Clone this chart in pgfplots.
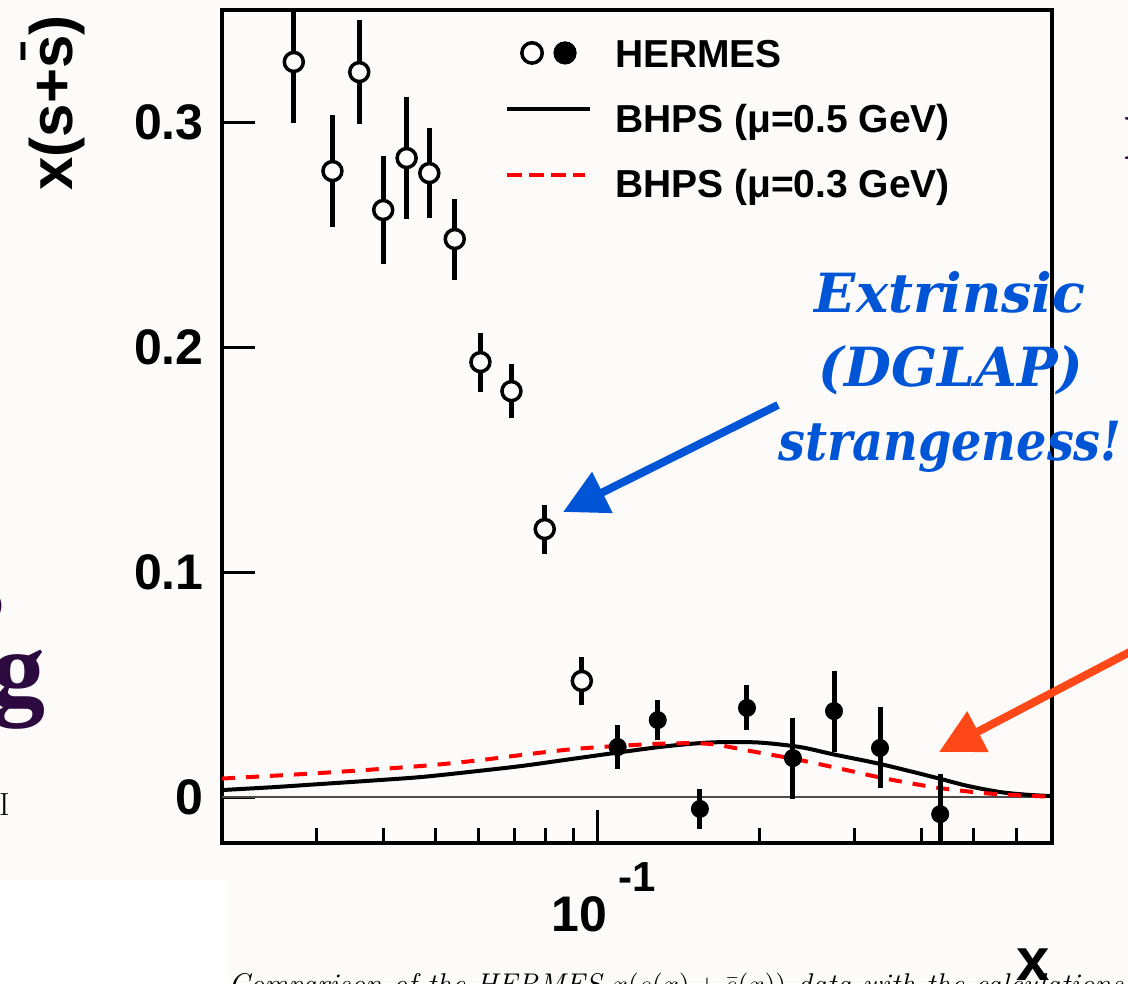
\documentclass[border=0pt]{standalone}
\usepackage{fontspec}
\usepackage{pgfplots}
\pgfplotsset{compat=1.18}
\usetikzlibrary{arrows.meta}
\newfontfamily\hv{Liberation Sans}
\newfontfamily\dvs{DejaVu Serif}
\newfontfamily\lsr{Liberation Serif}
\definecolor{bgcol}{RGB}{252,251,249}
\definecolor{annblue}{RGB}{0,85,214}
\definecolor{annorange}{RGB}{255,72,24}
\definecolor{slidepurple}{RGB}{44,10,64}

\begin{document}
\begin{tikzpicture}[x=0.5bp,y=0.5bp]
\useasboundingbox (0,0) rectangle (1128,983);
\fill[bgcol] (0,0) rectangle (1128,983);
\fill[white] (0,0) rectangle (227,103);
\begin{axis}[
  at={(111bp,70bp)}, anchor=south west,
  scale only axis, width=415bp, height=416.5bp,
  xmode=log, xmin=0.02, xmax=0.7, ymin=-0.02044, ymax=0.3498,
  tick pos=left, tick align=inside,
  axis line style={line width=2bp},
  every tick/.style={line width=1.5bp, black},
  major tick length=16.5bp, minor tick length=7.5bp,
  xtick={0.1},
  minor xtick={0.03,0.04,0.05,0.06,0.07,0.08,0.09,0.2,0.3,0.4,0.5,0.6},
  xticklabels={{10\hspace{6bp}\raisebox{20bp}{\fontsize{21bp}{21bp}\selectfont -1}}},
  ytick={0,0.1,0.2,0.3},
  yticklabels={0,0.1,0.2,0.3},
  minor y tick num=0,
  tick label style={font=\fontsize{25bp}{25bp}\hv\bfseries},
  yticklabel style={anchor=east, inner sep=0pt, xshift=-9bp},
  xticklabel style={anchor=north, inner sep=0pt, yshift=-9.5bp, xshift=3bp},
  legend style={at={(axis description cs:0.341,0.9712)}, anchor=north west,
    draw=none, fill=none, inner sep=0pt, outer sep=0pt,
    font=\fontsize{19.5bp}{19.5bp}\hv\bfseries,
    row sep=10.5bp, column sep=9.5bp,
    cells={anchor=base west, text height=15bp, text depth=5bp, inner sep=0pt}},
]
\addlegendimage{legend image code/.code={
  \path[draw=none, fill=none] (0bp,-5bp) rectangle (41.5bp,15bp);
  \draw[line width=1.75bp, draw=black, fill=bgcol] (12.5bp,7.5bp) circle (5.1bp);
  \fill[black] (29bp,7.5bp) circle (5.6bp);
}}
\addlegendentry{HERMES}
\addlegendimage{legend image code/.code={
  \path[draw=none, fill=none] (0bp,-5bp) rectangle (41.5bp,15bp);
  \draw[line width=2bp, black] (0bp,12bp) -- (41.5bp,12bp);
}}
\addlegendentry{BHPS (μ=0.5 GeV)}
\addlegendimage{legend image code/.code={
  \path[draw=none, fill=none] (0bp,-5bp) rectangle (41.5bp,15bp);
  \draw[line width=2bp, red, dash pattern=on 7.5bp off 3.5bp] (0bp,11.5bp) -- (39bp,11.5bp);
}}
\addlegendentry{BHPS (μ=0.3 GeV)}

% zero line
\addplot[forget plot, line width=0.7bp, black!70] coordinates {(0.02,0) (0.7,0)};

% BHPS mu=0.5 GeV
\addplot[forget plot, smooth, line width=2bp, black] coordinates {
(0.02,0.0031) (0.025,0.0044) (0.0306,0.0058) (0.038,0.0073) (0.047,0.0089)
(0.058,0.0112) (0.0722,0.0138) (0.09,0.0170) (0.1108,0.0200) (0.13,0.0222)
(0.15,0.0237) (0.17,0.0244) (0.2,0.0242) (0.2379,0.0222) (0.2739,0.0190)
(0.335,0.0147) (0.4207,0.0089) (0.4862,0.0050) (0.5606,0.0022) (0.63,0.0010) (0.7,0.0004)};

% BHPS mu=0.3 GeV
\addplot[forget plot, smooth, line width=2bp, red, dash pattern=on 6.5bp off 5.5bp] coordinates {
(0.02,0.0082) (0.0306,0.0107) (0.047,0.0138) (0.06,0.0163) (0.0722,0.0187)
(0.09,0.0213) (0.1108,0.0228) (0.1345,0.0238) (0.1616,0.0236) (0.1917,0.0205)
(0.2379,0.0164) (0.29,0.0120) (0.3395,0.0084) (0.4207,0.0044) (0.5,0.0022)
(0.5606,0.0012) (0.7,0.0001)};

% HERMES open points
\addplot[forget plot, only marks, mark=*, mark size=4.75bp,
  mark options={fill=bgcol, draw=black, line width=1.75bp},
  error bars/.cd, y dir=both, y explicit, error mark=none,
  error bar style={line width=2.5bp, black}]
  table[x=x, y=y, y error=e] {
x y e
0.0272 0.3267 0.0271
0.0321 0.2782 0.0250
0.0360 0.3222 0.0231
0.0399 0.2609 0.0238
0.0441 0.2840 0.0269
0.0486 0.2773 0.0200
0.0542 0.2480 0.0180
0.0605 0.1933 0.0131
0.0691 0.1804 0.0120
0.0797 0.1191 0.0109
0.0934 0.0516 0.0107
};

% HERMES filled points
\addplot[forget plot, only marks, mark=*, mark size=4.25bp,
  mark options={fill=black, draw=black, line width=0.5bp},
  error bars/.cd, y dir=both, y explicit, error mark=none,
  error bar style={line width=2.5bp, black}]
  table[x=x, y=y, y error=e] {
x y e
0.1089 0.0222 0.0098
0.1293 0.0342 0.0087
0.1549 -0.0053 0.0090
0.1895 0.0396 0.0100
0.2307 0.0173 0.0180
0.2751 0.0382 0.0180
0.3350 0.0218 0.0180
0.4335 -0.0076 0.0180
};
\end{axis}

% axis titles
\node[rotate=90, anchor=base east, inner sep=0pt, font=\fontsize{30bp}{30bp}\hv\bfseries] at (72,968) {x(s+\={s})};
\node[anchor=base east, inner sep=0pt, font=\fontsize{30bp}{30bp}\hv\bfseries] at (1050,3) {x};

% annotations
\begin{scope}[font=\fontsize{27bp}{27bp}\dvs\bfseries\itshape, annblue, inner sep=0pt]
\node[anchor=base] at (950,671) {Extrinsic};
\node[anchor=base] at (951,597) {(DGLAP)};
\node[anchor=base, xscale=0.885] at (950,523) {strangeness!};
\end{scope}
\draw[annblue, line width=4bp, -{Triangle[length=22bp,width=22bp]}] (778,578) -- (563,471);
\draw[annorange, line width=4bp, -{Triangle[length=22bp,width=22bp]}] (1166,350) -- (939,231);

% cropped slide fragments
\node[anchor=base east, inner sep=0pt, slidepurple, font=\fontsize{54bp}{54bp}\lsr\bfseries] at (46,278) {ng};
\node[anchor=base east, inner sep=0pt, slidepurple, font=\fontsize{54bp}{54bp}\lsr\bfseries] at (5,362) {s};
\node[anchor=base east, inner sep=0pt, black, font=\fontsize{16bp}{16bp}\rmfamily] at (10,168) {I};
\node[anchor=base west, inner sep=0pt, slidepurple, font=\fontsize{32bp}{32bp}\lsr\bfseries] at (1123,823) {I};
\node[anchor=base west, inner sep=0pt, black, font=\fontsize{15bp}{15bp}\rmfamily\itshape] at (228,-11) {Comparison of the HERMES $x(s(x)+\bar{s}(x))$ data with the calculations};
\end{tikzpicture}
\end{document}
